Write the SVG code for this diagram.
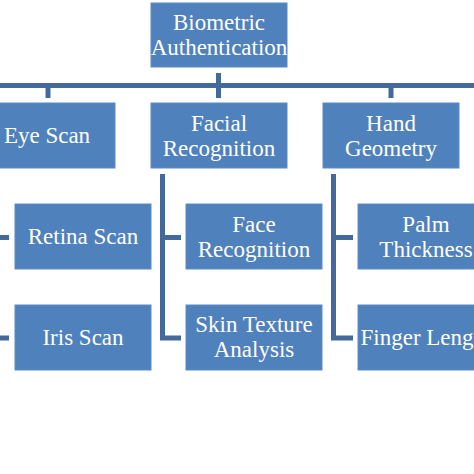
<svg xmlns="http://www.w3.org/2000/svg" width="474" height="474" viewBox="0 0 474 474">
<style>
.box{fill:#4f81bd;stroke:#5d8cc6;stroke-width:1}
.t{font-family:"Liberation Serif","Times New Roman",serif;font-size:23px;fill:#ffffff;text-anchor:middle}
.ln{fill:none;stroke:#44699c;stroke-width:5}
</style>
<rect width="474" height="474" fill="#ffffff"/>
<g id="connectors">
<path class="ln" d="M-10 85.5H484"/>
<path class="ln" d="M218.5 73V98"/>
<path class="ln" d="M48 85.5V98"/>
<path class="ln" d="M391 85.5V98"/>
<path class="ln" d="M-11 174V338H9M-11 237.5H9"/>
<path class="ln" d="M162.5 174V338H181M162.5 237.5H181"/>
<path class="ln" d="M333.5 174V338H353M333.5 237.5H353"/>
</g>
<g id="root"><rect class="box" x="151" y="3" width="136" height="64"/><text class="t" x="219" y="30">Biometric</text><text class="t" x="219" y="55">Authentication</text></g>
<g id="eye"><rect class="box" x="-21" y="103" width="136" height="65"/><text class="t" x="47" y="143">Eye Scan</text></g>
<g id="facial"><rect class="box" x="151" y="103" width="136" height="65"/><text class="t" x="219" y="131">Facial</text><text class="t" x="219" y="156">Recognition</text></g>
<g id="hand"><rect class="box" x="323" y="103" width="136" height="65"/><text class="t" x="391" y="131">Hand</text><text class="t" x="391" y="156">Geometry</text></g>
<g id="retina"><rect class="box" x="15" y="204" width="136" height="65"/><text class="t" x="83" y="244">Retina Scan</text></g>
<g id="iris"><rect class="box" x="15" y="305" width="136" height="65"/><text class="t" x="83" y="345">Iris Scan</text></g>
<g id="face"><rect class="box" x="186" y="204" width="136" height="65"/><text class="t" x="254" y="232">Face</text><text class="t" x="254" y="257">Recognition</text></g>
<g id="skin"><rect class="box" x="186" y="305" width="136" height="65"/><text class="t" x="254" y="332">Skin Texture</text><text class="t" x="254" y="357">Analysis</text></g>
<g id="palm"><rect class="box" x="358" y="204" width="136" height="65"/><text class="t" x="426" y="232">Palm</text><text class="t" x="426" y="257">Thickness</text></g>
<g id="finger"><rect class="box" x="358" y="305" width="136" height="65"/><text class="t" x="426" y="345">Finger Length</text></g>
</svg>
